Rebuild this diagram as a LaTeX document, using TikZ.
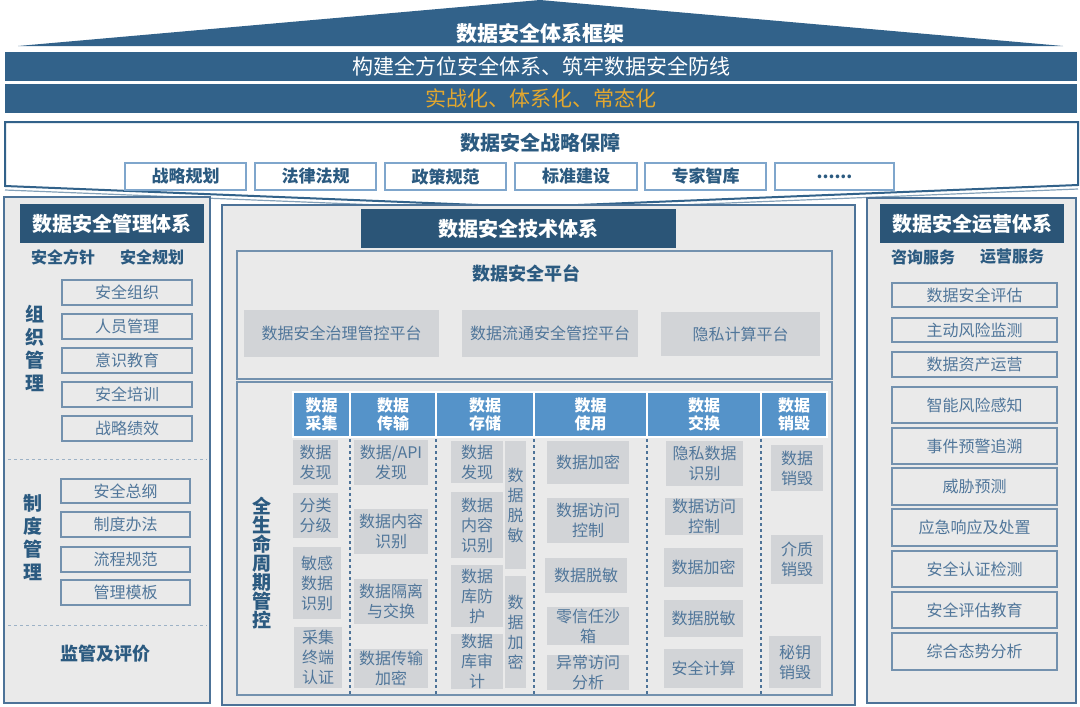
\documentclass[tikz,border=0pt]{standalone}
\usepackage{fontspec}
\setmainfont{Noto Sans CJK SC}
\definecolor{barblue}{HTML}{32628A}
\definecolor{dhead}{HTML}{2B5577}
\definecolor{gold}{HTML}{E2A72E}
\definecolor{panelfill}{HTML}{EAEAEA}
\definecolor{pborder}{HTML}{4D7398}
\definecolor{iborder}{HTML}{7391AE}
\definecolor{itext}{HTML}{50769A}
\definecolor{gfill}{HTML}{D2D4D7}
\definecolor{lblue}{HTML}{2B5A80}
\definecolor{hblue}{HTML}{5593C9}
\definecolor{sborder}{HTML}{7FA6CC}
\newcommand\bx[7]{\node[#2,anchor=north west,minimum width={(#5-#3)*1pt},minimum height={(#6-#4)*1pt}] (#1) at (#3,#4) {#7};}
\begin{document}
\begin{tikzpicture}[x=1pt,y=-1pt,
  every node/.style={inner sep=0pt,outer sep=0pt},
  bar/.style={fill=barblue,draw=none,text=white,font=\fontsize{21}{24}\selectfont},
  panel/.style={fill=panelfill,draw=pborder,line width=1.5pt},
  dheadbox/.style={fill=dhead,draw=none,text=white,font=\fontsize{20}{24}\selectfont\bfseries},
  sublbl/.style={text=lblue,font=\fontsize{16}{20}\selectfont\bfseries},
  vlbl/.style={text=lblue,align=center,font=\fontsize{19}{23}\selectfont\bfseries},
  item/.style={fill=panelfill,draw=iborder,line width=1.2pt,text=itext,font=\fontsize{16}{20}\selectfont},
  gitem/.style={fill=gfill,draw=none,text=itext,align=center,font=\fontsize{16}{20}\selectfont},
  colhead/.style={fill=hblue,draw=white,line width=1.5pt,text=white,align=center,font=\fontsize{16}{18}\selectfont\bfseries},
  sbox/.style={fill=white,draw=sborder,line width=1.5pt,text=lblue,font=\fontsize{17}{20}\selectfont\bfseries},
  sepline/.style={draw=iborder!70,dashed,line width=0.8pt},
  colsep/.style={draw=pborder,dashed,line width=1.2pt}]
\useasboundingbox (0,0) rectangle (1080,707);
% top triangle
\fill[barblue] (18,46) -- (540,0) -- (1063,46) -- cycle;
\node[text=white,font=\fontsize{21}{24}\selectfont\bfseries] (title) at (540,33) {数据安全体系框架};
\bx{bar1}{bar}{5}{52}{1077}{81}{构建全方位安全体系、筑牢数据安全防线}
\bx{bar2}{bar,text=gold}{5}{84}{1077}{113}{实战化、体系化、常态化}
% strategic box with V bottom
\coordinate (sL) at (5,186);
\coordinate (sM) at (528,207);
\coordinate (sR) at (1078,185);
\filldraw[fill=white,draw=barblue,line width=2pt] (5,122) -- (1078,122) -- (sR) -- (sM) -- (sL) -- cycle;
\draw[draw=barblue!60,line width=1.2pt] (5,190) -- (528,211) -- (1078,189);
\node[text=lblue,font=\fontsize{20}{24}\selectfont\bfseries] (stitle) at (540,143) {数据安全战略保障};
\bx{s1}{sbox}{125}{163}{246}{190}{战略规划}
\bx{s2}{sbox}{255}{163}{376}{190}{法律法规}
\bx{s3}{sbox}{385}{163}{506}{190}{政策规范}
\bx{s4}{sbox}{515}{163}{637}{190}{标准建设}
\bx{s5}{sbox}{645}{163}{766}{190}{专家智库}
\bx{s6}{sbox}{775}{163}{894}{190}{......}
% left panel
\bx{lp}{panel}{4}{197}{210}{703}{}
\bx{lph}{dheadbox}{20}{204}{204}{243}{数据安全管理体系}
\node[sublbl] (lpa) at (63,257) {安全方针};
\node[sublbl] (lpb) at (152,257) {安全规划};
\node[vlbl] (org) at (35,348) {组\\织\\管\\理};
\bx{l1}{item}{62}{280}{192}{305}{安全组织}
\bx{l2}{item}{62}{314}{192}{339}{人员管理}
\bx{l3}{item}{62}{348}{192}{373}{意识教育}
\bx{l4}{item}{62}{382}{192}{407}{安全培训}
\bx{l5}{item}{62}{416}{192}{441}{战略绩效}
\coordinate (sepA1) at (8,459); \coordinate (sepA2) at (207,459);
\draw[sepline] (sepA1) -- (sepA2);
\node[vlbl] (sys) at (33,538) {制\\度\\管\\理};
\bx{l6}{item}{61}{479}{190}{503}{安全总纲}
\bx{l7}{item}{61}{512}{190}{537}{制度办法}
\bx{l8}{item}{61}{547}{190}{572}{流程规范}
\bx{l9}{item}{61}{580}{190}{605}{管理模板}
\coordinate (sepB1) at (8,625); \coordinate (sepB2) at (207,625);
\draw[sepline] (sepB1) -- (sepB2);
\node[text=lblue,font=\fontsize{18}{22}\selectfont\bfseries] (sup) at (105,654) {监管及评价};
% middle panel
\bx{mp}{panel}{222}{205}{855}{705}{}
\bx{mph}{dheadbox}{361}{209}{676}{248}{数据安全技术体系}
\bx{plat}{panel,draw=iborder,line width=1.2pt}{237}{251}{832}{379}{}
\node[text=lblue,font=\fontsize{18}{22}\selectfont\bfseries] (plt) at (526,274) {数据安全平台};
\bx{p1}{gitem}{244}{310}{439}{357}{数据安全治理管控平台}
\bx{p2}{gitem}{462}{310}{638}{357}{数据流通安全管控平台}
\bx{p3}{gitem}{661}{312}{820}{356}{隐私计算平台}
\bx{life}{panel,draw=iborder,line width=1.2pt}{237}{382}{832}{695}{}
\node[vlbl,font=\fontsize{19}{19}\selectfont\bfseries] (lc) at (262,563) {全\\生\\命\\周\\期\\管\\控};
\bx{h1}{colhead}{293}{392}{350}{437}{数据\\采集}
\bx{h2}{colhead}{350}{392}{436}{437}{数据\\传输}
\bx{h3}{colhead}{436}{392}{534}{437}{数据\\存储}
\bx{h4}{colhead}{534}{392}{647}{437}{数据\\使用}
\bx{h5}{colhead}{647}{392}{761}{437}{数据\\交换}
\bx{h6}{colhead}{761}{392}{827}{437}{数据\\销毁}
\foreach \i/\xx in {1/350,2/436,3/534,4/647,5/761}{
  \coordinate (cs\i a) at (\xx,439);
  \coordinate (cs\i b) at (\xx,695);
  \draw[colsep] (cs\i a) -- (cs\i b);
}
% col 1
\bx{c11}{gitem}{293}{440}{338}{485}{数据\\发现}
\bx{c12}{gitem}{293}{493}{338}{538}{分类\\分级}
\bx{c13}{gitem}{293}{547}{341}{619}{敏感\\数据\\识别}
\bx{c14}{gitem}{294}{627}{342}{688}{采集\\终端\\认证}
% col 2
\bx{c21}{gitem}{354}{440}{428}{485}{数据/API\\发现}
\bx{c22}{gitem}{354}{509}{428}{554}{数据内容\\识别}
\bx{c23}{gitem}{354}{579}{428}{624}{数据隔离\\与交换}
\bx{c24}{gitem}{354}{649}{428}{688}{数据传输\\加密}
% col 3
\bx{c31}{gitem}{451}{441}{503}{483}{数据\\发现}
\bx{c32}{gitem}{451}{492}{503}{558}{数据\\内容\\识别}
\bx{c33}{gitem}{451}{565}{503}{627}{数据\\库防\\护}
\bx{c34}{gitem}{451}{634}{503}{688}{数据\\库审\\计}
\bx{c35}{gitem}{505}{441}{526}{569}{数\\据\\脱\\敏}
\bx{c36}{gitem}{505}{576}{526}{688}{数\\据\\加\\密}
% col 4
\bx{c41}{gitem}{547}{441}{629}{484}{数据加密}
\bx{c42}{gitem}{547}{498}{629}{543}{数据访问\\控制}
\bx{c43}{gitem}{545}{558}{627}{593}{数据脱敏}
\bx{c44}{gitem}{547}{607}{629}{645}{零信任沙\\箱}
\bx{c45}{gitem}{547}{655}{629}{688}{异常访问\\分析}
% col 5
\bx{c51}{gitem}{666}{441}{743}{486}{隐私数据\\识别}
\bx{c52}{gitem}{665}{498}{743}{535}{数据访问\\控制}
\bx{c53}{gitem}{664}{548}{743}{587}{数据加密}
\bx{c54}{gitem}{664}{600}{743}{637}{数据脱敏}
\bx{c55}{gitem}{664}{649}{743}{688}{安全计算}
% col 6
\bx{c61}{gitem}{771}{445}{823}{491}{数据\\销毁}
\bx{c62}{gitem}{771}{535}{823}{584}{介质\\销毁}
\bx{c63}{gitem}{769}{636}{821}{688}{秘钥\\销毁}
% right panel
\bx{rp}{panel}{867}{198}{1076}{703}{}
\bx{rph}{dheadbox}{880}{204}{1064}{243}{数据安全运营体系}
\node[sublbl] (rpa) at (923,257) {咨询服务};
\node[sublbl] (rpb) at (1012,257) {运营服务};
\bx{r1}{item}{892}{283}{1057}{307}{数据安全评估}
\bx{r2}{item}{892}{318}{1057}{342}{主动风险监测}
\bx{r3}{item}{892}{352}{1057}{377}{数据资产运营}
\bx{r4}{item}{892}{387}{1057}{423}{智能风险感知}
\bx{r5}{item}{892}{428}{1057}{464}{事件预警追溯}
\bx{r6}{item}{892}{468}{1057}{505}{威胁预测}
\bx{r7}{item}{892}{509}{1057}{546}{应急响应及处置}
\bx{r8}{item}{892}{551}{1057}{587}{安全认证检测}
\bx{r9}{item}{892}{592}{1057}{628}{安全评估教育}
\bx{r10}{item}{892}{633}{1057}{670}{综合态势分析}
\end{tikzpicture}
\end{document}
